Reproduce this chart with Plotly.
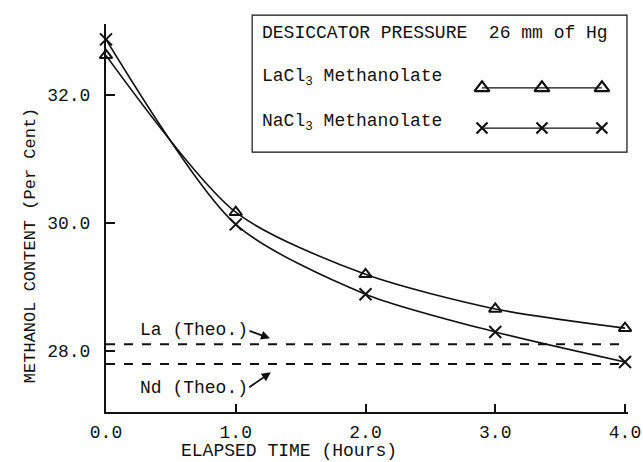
import plotly.graph_objects as go

# ---- data ----
hours = [0.0, 1.0, 2.0, 3.0, 4.0]
la_methanol = [32.62, 30.17, 29.20, 28.66, 28.36]
nd_methanol = [32.87, 29.98, 28.89, 28.30, 27.83]
la_theo = 28.11
nd_theo = 27.80
x_ticks = [0.0, 1.0, 2.0, 3.0, 4.0]
x_tick_labels = ["0.0", "1.0", "2.0", "3.0", "4.0"]
y_ticks = [28.0, 30.0, 32.0]
y_tick_labels = ["28.0", "30.0", "32.0"]
legend_x = [0, 1, 2]

FONT = "Liberation Mono, Courier New, monospace"
BLACK = "#111111"

fig = go.Figure()

# theoretical dashed lines
for val in [la_theo, nd_theo]:
    fig.add_trace(go.Scatter(x=[hours[0], hours[-1] + 0.02], y=[val, val], mode="lines",
                             line=dict(color=BLACK, width=2, dash="dash"),
                             showlegend=False, hoverinfo="skip"))

fig.add_trace(go.Scatter(x=hours, y=la_methanol, mode="lines+markers",
                         line=dict(color=BLACK, width=1.6, shape="spline", smoothing=0.75),
                         marker=dict(symbol="triangle-up-open", size=11,
                                     line=dict(color=BLACK, width=2)),
                         cliponaxis=False, showlegend=False))
fig.add_trace(go.Scatter(x=hours, y=nd_methanol, mode="lines+markers",
                         line=dict(color=BLACK, width=1.6, shape="spline", smoothing=0.75),
                         marker=dict(symbol="x-thin-open", size=12,
                                     line=dict(color=BLACK, width=2)),
                         cliponaxis=False, showlegend=False))

# legend samples (drawn on an auxiliary axis placed in the legend box)
fig.add_trace(go.Scatter(x=legend_x, y=[1, 1, 1], mode="lines+markers",
                         xaxis="x2", yaxis="y2",
                         line=dict(color=BLACK, width=1.4),
                         marker=dict(symbol="triangle-up-open", size=13,
                                     line=dict(color=BLACK, width=2.2)),
                         cliponaxis=False, showlegend=False))
fig.add_trace(go.Scatter(x=legend_x, y=[0, 0, 0], mode="lines+markers",
                         xaxis="x2", yaxis="y2",
                         line=dict(color=BLACK, width=1.4),
                         marker=dict(symbol="x-thin-open", size=11,
                                     line=dict(color=BLACK, width=2.2)),
                         cliponaxis=False, showlegend=False))

fig.update_layout(
    width=643, height=462,
    margin=dict(l=106, r=15, t=24, b=50),
    paper_bgcolor="white", plot_bgcolor="white",
    font=dict(family=FONT, size=18, color=BLACK),
    xaxis=dict(range=[0, 4.023], tickvals=x_ticks, ticktext=x_tick_labels,
               automargin=False,
               showgrid=False, zeroline=False, showline=True, linecolor=BLACK, linewidth=2,
               ticks="inside", ticklen=8, tickwidth=2, tickcolor=BLACK,
               ticklabelstandoff=2, tickfont=dict(family=FONT, size=18)),
    yaxis=dict(range=[27.05, 33.11], tickvals=y_ticks, ticktext=y_tick_labels,
               automargin=False,
               showgrid=False, zeroline=False, showline=True, linecolor=BLACK, linewidth=2,
               ticks="inside", ticklen=9, tickwidth=2, tickcolor=BLACK,
               ticklabelstandoff=10, tickfont=dict(family=FONT, size=18)),
    xaxis2=dict(domain=[0.7203, 0.950], range=[0, 2], visible=False, anchor="y2"),
    yaxis2=dict(domain=[0.680, 0.887], range=[-0.5, 1.5], visible=False, anchor="x2"),
)

# axis titles (offset from centre, as in the original)
fig.add_annotation(xref="paper", yref="paper", x=0.3506, y=-0.1284, xanchor="center",
                   yanchor="bottom", text="ELAPSED TIME (Hours)", showarrow=False,
                   borderpad=0, font=dict(family=FONT, size=18))
fig.add_annotation(xref="paper", yref="paper", x=-0.1456, y=0.430, xanchor="center",
                   yanchor="middle", text="METHANOL CONTENT (Per Cent)", showarrow=False,
                   textangle=-90, font=dict(family=FONT, size=17))

# legend box
fig.add_shape(type="rect", xref="paper", yref="paper", x0=0.280, x1=0.998, y0=0.670, y1=1.023,
              line=dict(color=BLACK, width=1.2), fillcolor="rgba(0,0,0,0)", layer="below")

fig.add_annotation(xref="paper", yref="paper", x=0.295, y=0.977, xanchor="left", yanchor="middle",
                   text="DESICCATOR PRESSURE  26 mm of Hg", showarrow=False,
                   font=dict(family=FONT, size=18))
fig.add_annotation(xref="paper", yref="paper", x=0.295, y=0.861, xanchor="left", yanchor="middle",
                   text="LaCl<sub>3</sub> Methanolate", showarrow=False,
                   font=dict(family=FONT, size=18))
fig.add_annotation(xref="paper", yref="paper", x=0.295, y=0.745, xanchor="left", yanchor="middle",
                   text="NaCl<sub>3</sub> Methanolate", showarrow=False,
                   font=dict(family=FONT, size=18))

# theoretical labels with arrows
fig.add_annotation(x=0.25, y=28.33, xref="x", yref="y", text="La (Theo.)",
                   xanchor="left", yanchor="middle", showarrow=False,
                   font=dict(family=FONT, size=18))
fig.add_annotation(x=1.264, y=28.2, ax=-22, ay=-8, xref="x", yref="y",
                   text="", showarrow=True, arrowhead=2, arrowsize=1, arrowwidth=1.8,
                   arrowcolor=BLACK)
fig.add_annotation(x=0.245, y=27.42, xref="x", yref="y", text="Nd (Theo.)",
                   xanchor="left", yanchor="middle", showarrow=False,
                   font=dict(family=FONT, size=18))
fig.add_annotation(x=1.27, y=27.67, ax=-23, ay=16, xref="x", yref="y",
                   text="", showarrow=True, arrowhead=2, arrowsize=1, arrowwidth=1.8,
                   arrowcolor=BLACK)

fig.write_html("out.html", config={"displayModeBar": False},
               post_script="document.body.style.margin='0';")
